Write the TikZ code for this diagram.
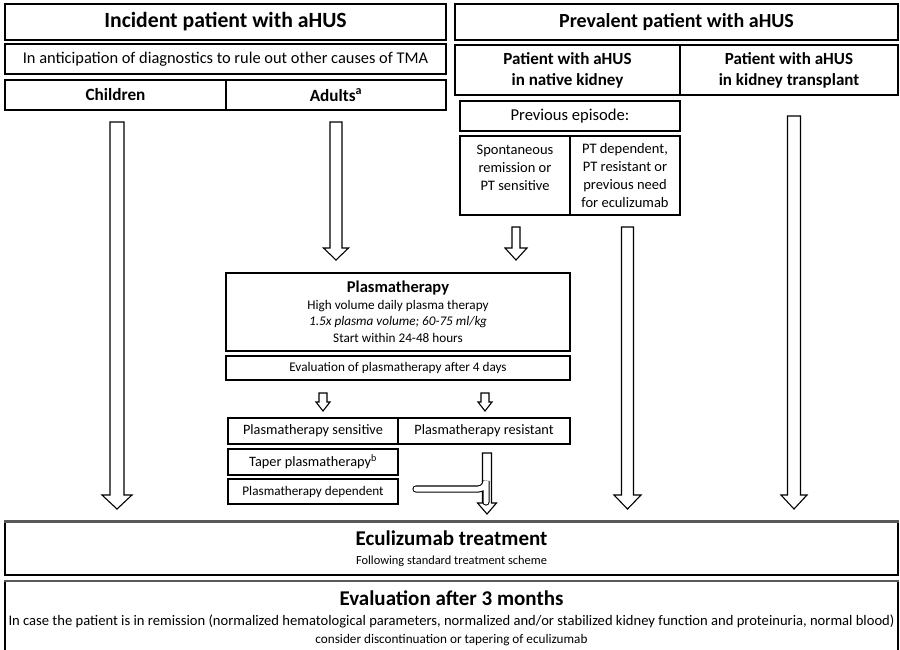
\documentclass[tikz,border=0pt]{standalone}
\usepackage{fontspec}
\setmainfont{Carlito}
\newcommand\fs[2]{\fontsize{#1}{#2}\selectfont}
\tikzset{
  box/.style={draw=black, line width=1.1pt, fill=white, inner sep=0pt, align=center},
  blk/.style={draw=black, line width=1.1pt, fill=white, line join=miter},
  topedge/.style={draw=black!65, line width=2.6pt},
}
% block arrow: center x, top y, head-top y, tip y, half shaft width, half head width
\newcommand\barrow[6]{%
  \draw[blk] ({#1-#5},#2) -- ({#1+#5},#2) -- ({#1+#5},#3) -- ({#1+#6},#3) -- (#1,#4)
    -- ({#1-#6},#3) -- ({#1-#5},#3) -- cycle;}
\begin{document}
\begin{tikzpicture}[x=1pt,y=-1pt]
\useasboundingbox (0,0) rectangle (900,649);
\fill[white] (0,0) rectangle (900,649);

% ---- left column
\node[box, minimum width=441pt, minimum height=36pt, font=\fs{21.7}{24}\bfseries] (inc) at (225.5,22) {Incident patient with aHUS};
\node[box, minimum width=441pt, minimum height=30pt, font=\fs{16.4}{19}] (anti) at (225.5,59) {In anticipation of diagnostics to rule out other causes of TMA};
\node[box, minimum width=221pt, minimum height=30pt, font=\fs{17.2}{18}\bfseries] (child) at (115.5,95) {Children};
\node[box, minimum width=220pt, minimum height=30pt, font=\fs{17.2}{18}\bfseries] (adult) at (336,95) {Adults\textsuperscript{a}};

% ---- right column
\node[box, minimum width=443pt, minimum height=36pt, font=\fs{20}{24}\bfseries] (prev) at (676.5,22) {Prevalent patient with aHUS};
\node[box, minimum width=225pt, minimum height=50pt, font=\fs{17}{21}\bfseries] (nat) at (567.5,70) {Patient with aHUS\\ in native kidney};
\node[box, minimum width=218pt, minimum height=50pt, font=\fs{17}{21}\bfseries] (trans) at (789,70) {Patient with aHUS\\ in kidney transplant};
\node[box, minimum width=220pt, minimum height=30pt, font=\fs{16.6}{19}] (prevep) at (570,116) {Previous episode:};
\node[box, minimum width=110pt, minimum height=79pt, font=\fs{14.5}{18}] (spont) at (515,175.5) {Spontaneous\\ remission or\\ PT sensitive\\[-8pt] \strut};
\node[box, minimum width=110pt, minimum height=79pt, font=\fs{14.5}{18}] (ptdep) at (625,175.5) {PT dependent,\\ PT resistant or\\ previous need\\ for eculizumab};

% ---- plasmatherapy
\node[box, minimum width=344pt, minimum height=78pt, font=\fs{13.2}{16.5}] (plasma) at (398,312)
  {{\fs{16.5}{17}\bfseries Plasmatherapy}\\ High volume daily plasma therapy\\ \textit{1.5x plasma volume; 60-75 ml/kg}\\ Start within 24-48 hours};
\node[box, minimum width=344pt, minimum height=24pt, font=\fs{13.2}{15}] (evpt) at (398,368) {Evaluation of plasmatherapy after 4 days};
\node[box, minimum width=170pt, minimum height=26pt, font=\fs{14.3}{16}] (sens) at (313,431) {Plasmatherapy sensitive};
\node[box, minimum width=172pt, minimum height=26pt, font=\fs{14.3}{16}] (res) at (484,431) {Plasmatherapy resistant};
\node[box, minimum width=170pt, minimum height=26pt, font=\fs{14.3}{16}] (taper) at (313,462) {Taper plasmatherapy\textsuperscript{b}};
\node[box, minimum width=170pt, minimum height=25pt, font=\fs{13.2}{15}] (dep) at (313,491.5) {Plasmatherapy dependent};

% ---- bottom
\node[box, minimum width=893pt, minimum height=53pt, font=\fs{12.4}{19}] (ecu) at (451.5,548.5)
  {{\fs{21}{22}\bfseries Eculizumab treatment}\\ Following standard treatment scheme};
\draw[topedge] (ecu.north west) -- (ecu.north east);
\node[box, minimum width=893pt, minimum height=74pt, anchor=north, font=\fs{14.6}{19}] (ev3) at (451.5,581)
  {{\fs{21}{22}\bfseries Evaluation after 3 months}\\[1pt]
  In case the patient is in remission (normalized hematological parameters, normalized and/or stabilized kidney function and proteinuria, normal blood)\\[-1pt]
  {\fs{13.2}{15}consider discontinuation or tapering of eculizumab}};
\draw[topedge] (ev3.north west) -- (ev3.north east);

% ---- block arrows
\barrow{117}{122}{495}{509}{7}{15}
\barrow{336}{122}{248}{260}{6}{12.5}
\barrow{516}{227}{248}{260}{4}{11}
\barrow{627.5}{227}{495}{509}{6}{13.5}
\barrow{794}{116}{495}{509}{6.5}{13}
\barrow{323}{393}{402}{411}{4}{7}
\barrow{485}{393}{402}{411}{4}{7}
\barrow{487}{453}{503}{514}{4.5}{9.5}
% elbow joining the resistant arrow
\draw[line width=1.1pt, double=white, double distance=5pt, line cap=round]
  (416,489) -- (478,489) arc[start angle=90, end angle=0, radius=8] -- (486,502);
\end{tikzpicture}
\end{document}
